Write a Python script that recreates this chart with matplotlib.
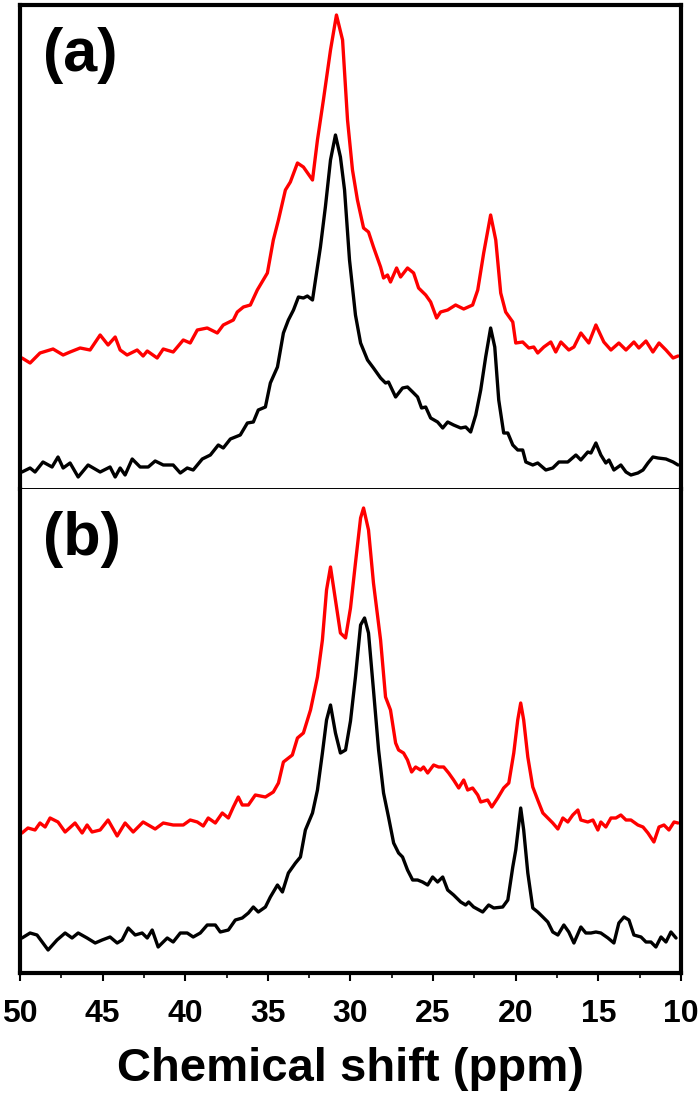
import matplotlib
matplotlib.use("Agg")
import matplotlib.pyplot as plt
from matplotlib.ticker import MultipleLocator

plt.rcParams['font.family'] = ['Liberation Sans', 'DejaVu Sans']
plt.rcParams['font.weight'] = 'bold'

# ---------------- data (ppm, intensity a.u.) ----------------
a_red_ppm = [49.88, 49.39, 48.79, 48.00, 47.39, 46.97, 46.36, 45.76, 45.15, 44.67, 44.24, 43.94, 43.52,
             42.91, 42.55, 42.30, 41.70, 41.33, 40.73, 40.12, 39.70, 39.27, 38.67, 38.06, 37.70, 37.09,
             36.85, 36.48, 36.06, 35.64, 35.03, 34.67, 34.36, 33.94, 33.64, 33.21, 32.85, 32.30, 32.00,
             31.64, 31.21, 30.85, 30.48, 30.18, 29.88, 29.58, 29.21, 28.91, 28.61, 28.18, 28.00, 27.76,
             27.58, 27.21, 26.97, 26.55, 26.18, 25.88, 25.45, 25.15, 24.79, 24.55, 24.12, 23.64, 23.15,
             22.61, 22.30, 21.94, 21.52, 21.21, 20.91, 20.61, 20.18, 20.00, 19.58, 19.21, 18.91, 18.67,
             18.30, 17.88, 17.58, 17.27, 16.79, 16.48, 16.06, 15.58, 15.15, 14.67, 14.24, 13.76, 13.33,
             12.85, 12.55, 12.12, 11.70, 11.33, 10.91, 10.48, 10.18]
a_red = [131, 126, 136, 140, 134, 137, 141, 139, 154, 144, 152, 139, 134,
         139, 133, 138, 131, 140, 137, 149, 146, 159, 161, 156, 164, 169,
         177, 182, 184, 199, 216, 249, 269, 299, 307, 326, 322, 309, 349,
         389, 439, 474, 449, 369, 319, 289, 261, 257, 242, 222, 211, 214,
         207, 221, 212, 221, 216, 201, 194, 187, 171, 177, 179, 184, 180,
         184, 199, 236, 274, 249, 196, 177, 167, 146, 147, 141, 142, 136,
         142, 147, 137, 147, 139, 142, 156, 146, 164, 147, 139, 146, 139,
         147, 141, 148, 137, 146, 139, 131, 133]

a_black_ppm = [49.88, 49.39, 49.09, 48.61, 48.06, 47.70, 47.39, 46.97, 46.48, 45.88, 45.15, 44.55, 44.24,
               43.94, 43.64, 43.21, 42.73, 42.24, 41.82, 41.33, 40.73, 40.30, 39.88, 39.52, 38.97, 38.48,
               38.00, 37.70, 37.27, 36.67, 36.24, 35.88, 35.58, 35.15, 34.85, 34.42, 34.06, 33.76, 33.45,
               33.15, 32.85, 32.61, 32.30, 32.12, 31.82, 31.52, 31.21, 30.91, 30.61, 30.36, 30.06, 29.70,
               29.39, 28.97, 28.61, 28.18, 27.88, 27.70, 27.27, 26.85, 26.55, 26.24, 25.94, 25.70, 25.45,
               25.15, 24.73, 24.42, 24.12, 23.76, 23.33, 23.03, 22.73, 22.42, 22.12, 21.82, 21.52, 21.27,
               21.03, 20.73, 20.48, 20.18, 19.88, 19.58, 19.39, 18.97, 18.67, 18.18, 17.76, 17.39, 16.85,
               16.36, 16.06, 15.64, 15.45, 15.15, 14.85, 14.55, 14.36, 14.06, 13.64, 13.33, 13.03, 12.61,
               12.30, 12.00, 11.70, 11.39, 10.91, 10.48, 10.18]
a_black = [17, 21, 17, 27, 22, 32, 21, 26, 12, 24, 17, 22, 12,
           21, 14, 30, 22, 22, 28, 24, 24, 16, 21, 19, 30, 34,
           44, 41, 50, 54, 66, 67, 79, 82, 106, 122, 156, 169, 179,
           192, 191, 193, 189, 209, 242, 282, 329, 354, 332, 299, 229, 174,
           146, 129, 121, 111, 106, 107, 92, 101, 102, 97, 92, 81, 82,
           71, 67, 61, 67, 64, 61, 62, 57, 74, 99, 132, 161, 142,
           89, 56, 56, 44, 39, 39, 27, 24, 26, 19, 21, 27, 27,
           34, 29, 37, 36, 46, 34, 26, 29, 19, 24, 17, 14, 16,
           19, 26, 32, 31, 30, 27, 24]

b_red_ppm = [49.88, 49.52, 49.09, 48.79, 48.48, 48.18, 47.70, 47.27, 46.67, 46.24, 45.94, 45.64, 45.15,
             44.67, 44.12, 43.64, 43.15, 42.55, 41.82, 41.33, 40.73, 40.12, 39.70, 39.27, 38.91, 38.61,
             38.18, 37.76, 37.39, 37.09, 36.79, 36.55, 36.18, 35.76, 35.15, 34.67, 34.36, 34.06, 33.52,
             33.21, 32.85, 32.42, 32.00, 31.70, 31.45, 31.21, 30.91, 30.61, 30.30, 30.00, 29.70, 29.39,
             29.21, 28.91, 28.61, 28.18, 27.88, 27.58, 27.27, 27.09, 26.79, 26.55, 26.30, 26.06, 25.76,
             25.58, 25.33, 24.97, 24.67, 24.36, 24.06, 23.76, 23.45, 23.15, 22.91, 22.61, 22.30, 22.12,
             21.70, 21.45, 21.09, 20.73, 20.42, 20.12, 19.88, 19.70, 19.52, 19.27, 18.97, 18.67, 18.36,
             18.06, 17.76, 17.45, 17.15, 16.85, 16.55, 16.24, 16.06, 15.64, 15.33, 15.03, 14.85, 14.55,
             14.24, 13.94, 13.64, 13.33, 13.03, 12.61, 12.30, 12.00, 11.64, 11.33, 11.03, 10.73, 10.42,
             10.18]
b_red = [140, 145, 143, 150, 146, 155, 151, 141, 150, 140, 148, 141, 143,
         153, 137, 150, 141, 151, 144, 150, 148, 148, 153, 151, 147, 155,
         150, 160, 155, 166, 176, 168, 168, 178, 176, 181, 190, 211, 218,
         235, 240, 263, 296, 333, 383, 406, 373, 340, 335, 365, 410, 455,
         465, 443, 390, 333, 276, 263, 230, 223, 220, 213, 201, 206, 203,
         206, 200, 208, 206, 206, 200, 193, 185, 193, 183, 185, 178, 171,
         173, 166, 175, 185, 190, 220, 253, 270, 253, 216, 186, 173, 160,
         155, 150, 144, 155, 151, 158, 163, 153, 151, 153, 143, 151, 146,
         155, 155, 158, 153, 153, 148, 146, 140, 131, 146, 148, 143, 151,
         150]

b_black_ppm = [49.88, 49.39, 48.97, 48.30, 47.76, 47.27, 46.85, 46.48, 45.94, 45.45, 45.03, 44.55, 44.12,
               43.82, 43.45, 43.03, 42.61, 42.30, 42.00, 41.64, 41.09, 40.73, 40.30, 39.88, 39.52, 39.09,
               38.67, 38.18, 37.88, 37.39, 36.97, 36.55, 36.18, 35.88, 35.58, 35.15, 34.85, 34.42, 34.12,
               33.76, 33.33, 33.03, 32.73, 32.30, 32.00, 31.70, 31.45, 31.21, 30.91, 30.61, 30.30, 30.00,
               29.70, 29.39, 29.15, 28.91, 28.61, 28.30, 28.00, 27.70, 27.39, 27.09, 26.85, 26.55, 26.24,
               25.94, 25.64, 25.33, 25.03, 24.73, 24.42, 24.12, 23.76, 23.33, 23.03, 22.85, 22.55, 22.00,
               21.64, 21.33, 20.79, 20.48, 20.18, 20.00, 19.70, 19.52, 19.27, 18.97, 18.67, 18.36, 18.06,
               17.76, 17.45, 17.09, 16.79, 16.48, 16.06, 15.76, 15.45, 15.15, 14.85, 14.42, 14.06, 13.76,
               13.45, 13.15, 12.85, 12.42, 12.12, 11.82, 11.52, 11.21, 10.91, 10.61, 10.30]
b_black = [35, 40, 38, 23, 33, 40, 35, 40, 35, 30, 33, 36, 30,
           33, 45, 38, 40, 35, 43, 26, 35, 31, 40, 40, 36, 40,
           48, 48, 41, 43, 53, 55, 60, 66, 61, 66, 76, 88, 81,
           100, 110, 116, 143, 160, 183, 220, 253, 268, 240, 220, 223, 252,
           296, 348, 355, 340, 283, 223, 180, 156, 130, 120, 116, 103, 93,
           93, 91, 88, 96, 91, 96, 83, 78, 71, 68, 71, 66, 61,
           68, 65, 66, 73, 106, 123, 165, 143, 100, 65, 61, 56, 51,
           41, 38, 48, 41, 30, 46, 40, 40, 41, 40, 35, 30, 50,
           56, 53, 38, 36, 31, 31, 26, 36, 31, 41, 35]

x_ticks = [50, 45, 40, 35, 30, 25, 20, 15, 10]
panel_labels = ["(a)", "(b)"]
x_label = "Chemical shift (ppm)"

# ---------------- figure ----------------
W, H = 700, 1102
fig = plt.figure(figsize=(W / 100, H / 100), dpi=100)

def fx(px):
    return px / W

def fy(py):
    return 1 - py / H

left, right = 20, 681
top, mid, bot = 5, 489, 973
ax_a = fig.add_axes([fx(left), fy(mid), fx(right) - fx(left), fy(top) - fy(mid)])
ax_b = fig.add_axes([fx(left), fy(bot), fx(right) - fx(left), fy(mid) - fy(bot)])

series = [
    (ax_a, a_red_ppm, a_red, a_black_ppm, a_black),
    (ax_b, b_red_ppm, b_red, b_black_ppm, b_black),
]
for ax, rp, rv, bp, bv in series:
    ax.plot(bp, bv, color='black', lw=2.4, solid_joinstyle='round', solid_capstyle='round')
    ax.plot(rp, rv, color='#ff0000', lw=2.4, solid_joinstyle='round', solid_capstyle='round')
    ax.set_xlim(50, 10)
    ax.set_ylim(0, 484)
    ax.set_yticks([])
    for s in ax.spines.values():
        s.set_linewidth(3.0)

for ax, lab in zip([ax_a, ax_b], panel_labels):
    ax.text(0.035, 0.955, lab, transform=ax.transAxes, ha='left', va='top',
            fontsize=44, fontweight='bold')

ax_a.spines['bottom'].set_linewidth(1.4)
ax_b.spines['top'].set_visible(False)
ax_a.set_xticks([])

ax_b.set_xticks(x_ticks)
ax_b.xaxis.set_minor_locator(MultipleLocator(2.5))
ax_b.tick_params(axis='x', which='major', direction='out', length=6, width=1.5,
                 labelsize=23, pad=13, top=False)
ax_b.tick_params(axis='x', which='minor', direction='out', length=3.5, width=1.2, top=False)
for t in ax_b.get_xticklabels():
    t.set_fontweight('bold')
ax_b.set_xlabel(x_label, fontsize=34, fontweight='bold', labelpad=13)

fig.savefig("out.png", dpi=100)
